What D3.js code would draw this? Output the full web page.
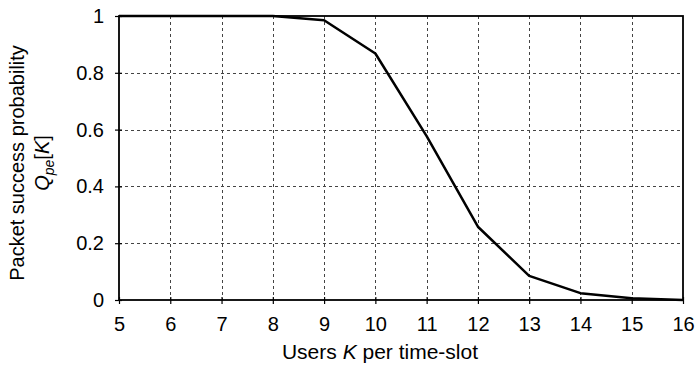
<!DOCTYPE html>
<html>
<head>
<meta charset="utf-8">
<script src="https://cdn.jsdelivr.net/npm/d3@7"></script>
<style>
  body { margin: 0; background: #fff; }
  svg { display: block; font-family: "Liberation Sans", Arial, sans-serif; }
</style>
</head>
<body>
<svg id="chart" width="695" height="366"></svg>
<script>
var users = [5, 6, 7, 8, 9, 10, 11, 12, 13, 14, 15, 16];
var successProb = [1, 1, 1, 1, 0.985, 0.868, 0.577, 0.258, 0.085, 0.024, 0.006, 0];
var yTicks = [0, 0.2, 0.4, 0.6, 0.8, 1];

var svg = d3.select('#chart');
var margin = {left: 119, right: 12, top: 16, bottom: 66};
var width = 695 - margin.left - margin.right;
var height = 366 - margin.top - margin.bottom;

var x = d3.scaleLinear().domain([5, 16]).range([margin.left, margin.left + width]);
var y = d3.scaleLinear().domain([0, 1]).range([margin.top + height, margin.top]);

// grid
var grid = svg.append('g').attr('stroke', '#444').attr('stroke-width', 1).attr('stroke-dasharray', '3,3');
grid.selectAll('.vg').data(users.slice(1, -1)).enter().append('line')
    .attr('x1', function (d) { return Math.round(x(d)) + 0.5; })
    .attr('x2', function (d) { return Math.round(x(d)) + 0.5; })
    .attr('y1', margin.top).attr('y2', margin.top + height);
grid.selectAll('.hg').data(yTicks.slice(1, -1)).enter().append('line')
    .attr('y1', function (d) { return Math.round(y(d)) + 0.5; })
    .attr('y2', function (d) { return Math.round(y(d)) + 0.5; })
    .attr('x1', margin.left).attr('x2', margin.left + width);

// axes
var xAxis = d3.axisBottom(x).tickValues(users).tickSize(4).tickFormat(d3.format('d'));
var yAxis = d3.axisLeft(y).tickValues(yTicks).tickSize(4).tickFormat(function (d) { return d === 0 || d === 1 ? d : d.toFixed(1); });

svg.append('g')
    .attr('transform', 'translate(0,' + (margin.top + height) + ')')
    .call(xAxis)
    .call(function (g) {
        g.select('.domain').remove();
        g.selectAll('.tick line').attr('stroke', '#000').attr('stroke-width', 1.2).attr('y1', -3);
        g.selectAll('.tick text').attr('fill', '#000').attr('font-size', 20).attr('font-family', null).attr('dy', null).attr('y', 31);
    });

svg.append('g')
    .attr('transform', 'translate(' + margin.left + ',0)')
    .call(yAxis)
    .call(function (g) {
        g.select('.domain').remove();
        g.selectAll('.tick line').attr('stroke', '#000').attr('stroke-width', 1.2).attr('x1', 3);
        g.selectAll('.tick text').attr('fill', '#000').attr('font-size', 20).attr('font-family', null).attr('x', -15);
    });

// frame
svg.append('rect')
    .attr('x', margin.left).attr('y', margin.top)
    .attr('width', width).attr('height', height)
    .attr('fill', 'none').attr('stroke', '#000').attr('stroke-width', 1.8);

// data line
var line = d3.line()
    .x(function (d, i) { return x(users[i]); })
    .y(function (d) { return y(d); });

svg.append('path')
    .datum(successProb)
    .attr('d', line)
    .attr('fill', 'none')
    .attr('stroke', '#000')
    .attr('stroke-width', 2.5)
    .attr('stroke-linejoin', 'round');

// axis titles
var xt = svg.append('text')
    .attr('x', 380).attr('y', 359)
    .attr('text-anchor', 'middle').attr('font-size', 21);
xt.append('tspan').text('Users ');
xt.append('tspan').attr('font-style', 'italic').text('K');
xt.append('tspan').text(' per time-slot');

var yt = svg.append('g').attr('transform', 'translate(0,' + 163 + ') rotate(-90)');
yt.append('text').attr('x', 0).attr('y', 24)
    .attr('text-anchor', 'middle').attr('font-size', 20)
    .text('Packet success probability');
var q = yt.append('text').attr('x', 0).attr('y', 49)
    .attr('text-anchor', 'middle').attr('font-size', 20);
q.append('tspan').attr('font-style', 'italic').text('Q');
q.append('tspan').attr('font-style', 'italic').attr('font-size', 14).attr('dy', 5).text('pe');
q.append('tspan').attr('dy', -5).text('[');
q.append('tspan').attr('font-style', 'italic').text('K');
q.append('tspan').text(']');
</script>
</body>
</html>
